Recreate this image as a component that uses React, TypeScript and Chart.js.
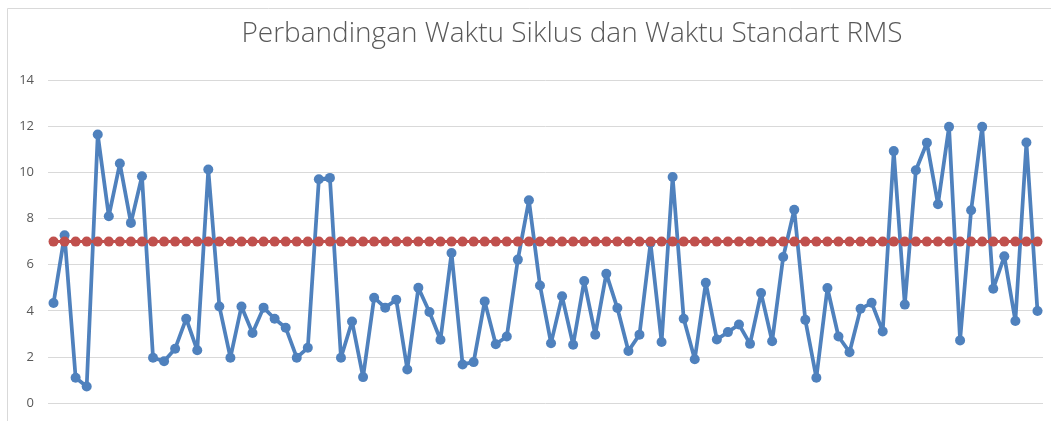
import React, { useEffect, useRef } from "react";
import { Chart, registerables } from "chart.js";

Chart.register(...registerables);

const TITLE = "Perbandingan Waktu Siklus dan Waktu Standart RMS";

const categories: string[] = [
  "1","2","3","4","5","6","7","8","9","10",
  "11","12","13","14","15","16","17","18","19","20",
  "21","22","23","24","25","26","27","28","29","30",
  "31","32","33","34","35","36","37","38","39","40",
  "41","42","43","44","45","46","47","48","49","50",
  "51","52","53","54","55","56","57","58","59","60",
  "61","62","63","64","65","66","67","68","69","70",
  "71","72","73","74","75","76","77","78","79","80",
  "81","82","83","84","85","86","87","88","89","90",
];

const waktuSiklus: number[] = [
  4.34, 7.27, 1.10, 0.72, 11.64, 8.10, 10.38, 7.81, 9.83, 1.97,
  1.82, 2.36, 3.66, 2.29, 10.12, 4.19, 1.97, 4.19, 3.04, 4.14,
  3.66, 3.27, 1.97, 2.40, 9.70, 9.76, 1.97, 3.54, 1.13, 4.57,
  4.14, 4.48, 1.46, 5.00, 3.95, 2.75, 6.51, 1.68, 1.78, 4.41,
  2.55, 2.89, 6.22, 8.79, 5.10, 2.60, 4.63, 2.53, 5.29, 2.97,
  5.61, 4.12, 2.26, 2.97, 6.94, 2.65, 9.80, 3.66, 1.90, 5.22,
  2.76, 3.08, 3.41, 2.57, 4.77, 2.68, 6.33, 8.38, 3.61, 1.10,
  4.99, 2.89, 2.21, 4.09, 4.35, 3.11, 10.92, 4.27, 10.09, 11.28,
  8.62, 11.97, 2.72, 8.36, 11.97, 4.96, 6.36, 3.56, 11.29, 3.99,
];

const waktuStandart: number[] = [
  7, 7, 7, 7, 7, 7, 7, 7, 7, 7,
  7, 7, 7, 7, 7, 7, 7, 7, 7, 7,
  7, 7, 7, 7, 7, 7, 7, 7, 7, 7,
  7, 7, 7, 7, 7, 7, 7, 7, 7, 7,
  7, 7, 7, 7, 7, 7, 7, 7, 7, 7,
  7, 7, 7, 7, 7, 7, 7, 7, 7, 7,
  7, 7, 7, 7, 7, 7, 7, 7, 7, 7,
  7, 7, 7, 7, 7, 7, 7, 7, 7, 7,
  7, 7, 7, 7, 7, 7, 7, 7, 7, 7,
];

const yTicks: number[] = [0, 2, 4, 6, 8, 10, 12, 14];

const BLUE = "#4f81bd";
const RED = "#c0504d";
const TEXT = "#595959";
const GRID = "#d9d9d9";

const framePlugin = {
  id: "frameAndTitle",
  beforeDraw(chart: any) {
    const ctx = chart.ctx;
    ctx.save();
    ctx.fillStyle = "#ffffff";
    ctx.fillRect(0, 0, chart.width, chart.height);
    ctx.strokeStyle = GRID;
    ctx.lineWidth = 1;
    ctx.beginPath();
    ctx.moveTo(7.5, chart.height + 2);
    ctx.lineTo(7.5, 8.5);
    ctx.lineTo(chart.width + 2, 8.5);
    ctx.stroke();
    ctx.restore();
  },
  afterDraw(chart: any) {
    const ctx = chart.ctx;
    ctx.save();
    ctx.fillStyle = TEXT;
    ctx.font = '300 28px "Open Sans"';
    ctx.textAlign = "center";
    ctx.textBaseline = "alphabetic";
    ctx.fillText(TITLE, 572, 42);
    ctx.restore();
  },
};

export default function App() {
  const canvasRef = useRef<HTMLCanvasElement | null>(null);

  useEffect(() => {
    if (!canvasRef.current) return;
    const chart = new Chart(canvasRef.current, {
      type: "line",
      data: {
        labels: categories,
        datasets: [
          {
            label: "Waktu Standart",
            data: waktuStandart,
            borderColor: RED,
            backgroundColor: RED,
            borderWidth: 3,
            borderJoinStyle: "round",
            borderCapStyle: "round",
            pointRadius: 5,
            pointBorderWidth: 0,
            pointBackgroundColor: RED,
            tension: 0,
            order: 0,
          },
          {
            label: "Waktu Siklus",
            data: waktuSiklus,
            borderColor: BLUE,
            backgroundColor: BLUE,
            borderWidth: 3.75,
            borderJoinStyle: "round",
            borderCapStyle: "round",
            pointRadius: 5,
            pointBorderWidth: 0,
            pointBackgroundColor: BLUE,
            tension: 0,
            order: 1,
          },
        ],
      },
      options: {
        animation: false,
        responsive: false,
        maintainAspectRatio: false,
        layout: { padding: { left: 0, right: 8, top: 80, bottom: 0 } },
        plugins: {
          legend: { display: false },
          title: { display: false },
          tooltip: { enabled: false },
        },
        scales: {
          x: {
            display: false,
            offset: true,
            grid: { display: false },
          },
          y: {
            min: 0,
            max: 14,
            afterFit: (axis: any) => {
              axis.width = 48;
            },
            afterBuildTicks: (axis: any) => {
              axis.ticks = yTicks.map((v) => ({ value: v }));
            },
            border: { display: false },
            grid: { color: GRID, lineWidth: 1, drawTicks: false },
            ticks: {
              color: TEXT,
              padding: 14,
              font: { family: '"Open Sans"', size: 13 },
            },
          },
        },
      },
      plugins: [framePlugin],
    });
    return () => chart.destroy();
  }, []);

  return (
    <div style={{ position: "fixed", left: 0, top: 0, width: 1051, height: 421, overflow: "hidden", background: "#fff" }}>
      <canvas ref={canvasRef} width={1051} height={425} style={{ display: "block" }} />
    </div>
  );
}
